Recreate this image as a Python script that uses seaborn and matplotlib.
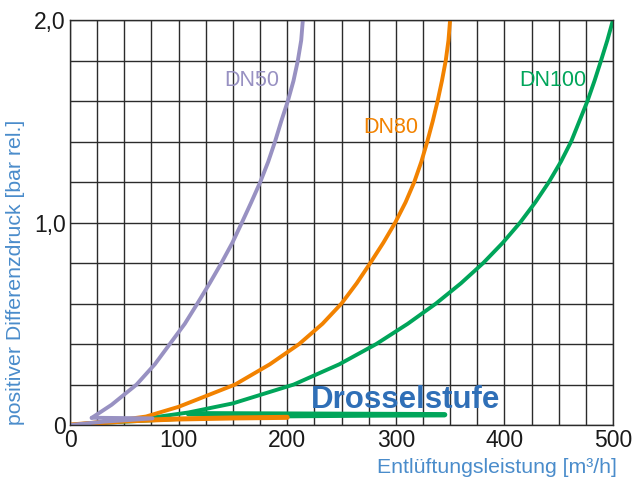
import matplotlib
matplotlib.use("Agg")
import matplotlib.pyplot as plt
from matplotlib.ticker import MultipleLocator, FixedLocator
import seaborn as sns
import pandas as pd

# ---- data ----
dn50_x = [19.9, 38.3, 61.3, 78.1, 91.9, 105.7, 117.3, 128.6, 139.4, 149.5, 158.3,
          166.9, 175.2, 182.5, 188.8, 194.5, 200.6, 205.8, 209.8, 212.9, 214.4]
dn50_y = [0.035, 0.1, 0.2, 0.3, 0.4, 0.5, 0.6, 0.7, 0.8, 0.9, 1.0,
          1.1, 1.2, 1.3, 1.4, 1.5, 1.6, 1.7, 1.8, 1.9, 2.0]
dn50_thr_x = [0, 30, 76, 20]
dn50_thr_y = [0, 0.016, 0.033, 0.036]

dn80_x = [0, 40, 70, 100, 152, 184, 211, 232.5, 250, 264, 276.5, 288.5, 299.5,
          309, 317, 323.5, 329, 334, 338.5, 342.5, 346, 348.5, 350]
dn80_y = [0, 0.02, 0.042, 0.09, 0.2, 0.3, 0.4, 0.5, 0.6, 0.7, 0.8, 0.9, 1.0,
          1.1, 1.2, 1.3, 1.4, 1.5, 1.6, 1.7, 1.8, 1.9, 2.0]
dn80_thr_x = [0, 50, 100, 150, 200]
dn80_thr_y = [0, 0.02, 0.03, 0.035, 0.038]

dn100_x = [0, 60, 109, 150, 206, 248, 282, 311, 337, 360, 380.5, 398.5, 414.5,
           428.5, 441, 452, 461.5, 469, 476.5, 483, 489, 494.8, 500]
dn100_y = [0, 0.025, 0.062, 0.107, 0.2, 0.3, 0.4, 0.5, 0.6, 0.7, 0.8, 0.9, 1.0,
           1.1, 1.2, 1.3, 1.4, 1.5, 1.6, 1.7, 1.8, 1.9, 2.0]
dn100_thin_x = [0, 109, 200, 345]
dn100_thin_y = [0, 0.03, 0.04, 0.046]
dn100_thr_x = [109, 200, 345]
dn100_thr_y = [0.056, 0.054, 0.051]

x_ticks = [0, 100, 200, 300, 400, 500]
x_tick_labels = ["0", "100", "200", "300", "400", "500"]
y_ticks = [0, 1.0, 2.0]
y_tick_labels = ["0", "1,0", "2,0"]

labels = ["DN50", "DN80", "DN100"]
label_x = [167.6, 295.6, 444.8]
label_y = [1.70, 1.467, 1.70]

C_PURPLE = "#9891C2"
C_ORANGE = "#F28200"
C_GREEN = "#00A55A"
C_BLUE = "#4A8CCB"
C_DBLUE = "#2F6FB7"

sns.set_theme(style="white")
plt.rcParams["font.family"] = ["Liberation Sans", "DejaVu Sans"]

fig = plt.figure(figsize=(6.33, 4.83), dpi=100)
ax = fig.add_axes([0.1106, 0.120, 0.8578, 0.8386])

def draw(xs, ys, color, lw):
    df = pd.DataFrame({"x": xs, "y": ys})
    sns.lineplot(data=df, x="x", y="y", sort=False, estimator=None,
                 color=color, linewidth=lw, ax=ax, solid_capstyle="round",
                 solid_joinstyle="round")

draw(dn100_thin_x, dn100_thin_y, C_GREEN, 2.0)
draw(dn100_thr_x, dn100_thr_y, C_GREEN, 3.8)
draw(dn100_x, dn100_y, C_GREEN, 2.8)
draw(dn80_thr_x, dn80_thr_y, C_ORANGE, 3.6)
draw(dn80_x, dn80_y, C_ORANGE, 2.8)
draw(dn50_thr_x, dn50_thr_y, C_PURPLE, 2.8)
draw(dn50_x, dn50_y, C_PURPLE, 2.8)

ax.set_xlim(0, 500)
ax.set_ylim(0, 2.0)
ax.xaxis.set_major_locator(FixedLocator(x_ticks))
ax.set_xticklabels(x_tick_labels)
ax.yaxis.set_major_locator(FixedLocator(y_ticks))
ax.set_yticklabels(y_tick_labels)
ax.xaxis.set_minor_locator(MultipleLocator(25))
ax.yaxis.set_minor_locator(MultipleLocator(0.2))
ax.grid(True, which="both", color="#2b2b2b", linewidth=1.0)
ax.set_axisbelow(True)
ax.tick_params(axis="both", which="both", length=0, labelsize=16.5,
               labelcolor="#1a1a1a", pad=3)
for s in ax.spines.values():
    s.set_color("#2b2b2b")
    s.set_linewidth(1.0)

ax.set_xlabel("")
ax.set_ylabel("")
fig.text(0.975, 0.033, "Entlüftungsleistung [m³/h]", color=C_BLUE,
         fontsize=15.3, ha="right", va="center")
fig.text(0.024, 0.12, "positiver Differenzdruck [bar rel.]", color=C_BLUE,
         fontsize=15.3, ha="center", va="bottom", rotation=90)

cols = [C_PURPLE, C_ORANGE, C_GREEN]
for t, lx, ly, c in zip(labels, label_x, label_y, cols):
    ax.text(lx, ly, t, color=c, fontsize=15.5, ha="center", va="center")

ax.text(309, 0.123, "Drosselstufe", color=C_DBLUE, fontsize=22.5,
        fontweight="bold", ha="center", va="center")

fig.savefig("out.png", dpi=100)
